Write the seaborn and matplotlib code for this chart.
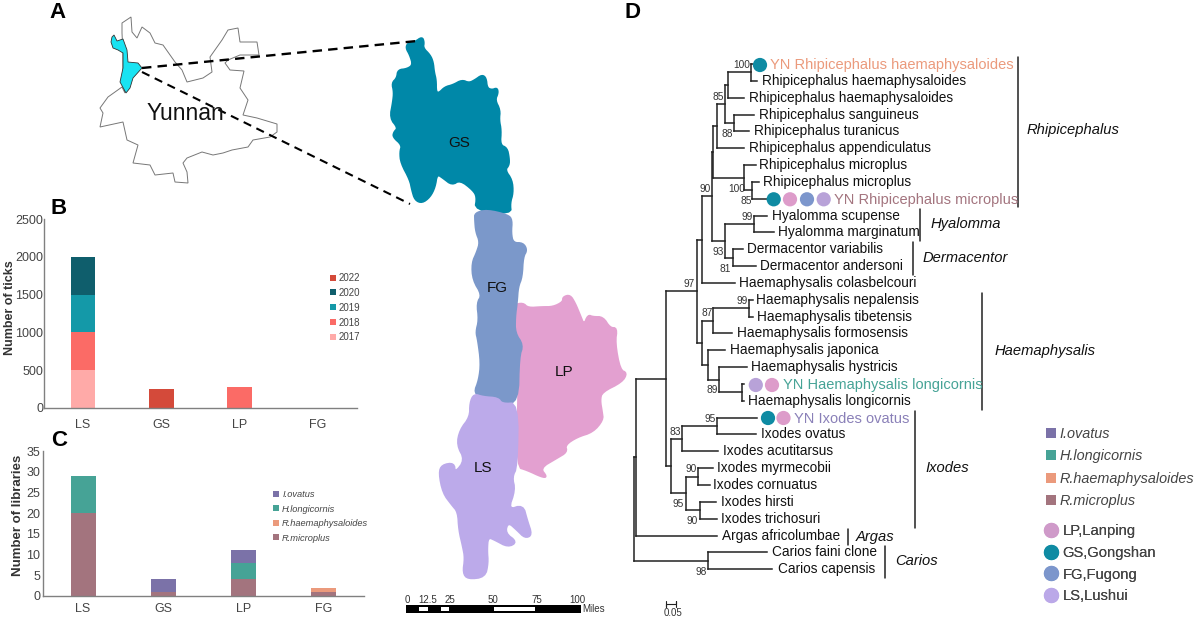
import matplotlib
matplotlib.use('Agg')
import matplotlib.pyplot as plt
import numpy as np
import seaborn as sns
from matplotlib.lines import Line2D
from matplotlib.patches import Polygon, Rectangle

# bar charts
sites = ['LS', 'GS', 'LP', 'FG']
years = ['2017', '2018', '2019', '2020', '2022']
year_colors = ['#ffaaa8', '#fb6b66', '#1499a8', '#0f5e6c', '#d44a3a']
ticks_2017 = [500, 0, 0, 0]
ticks_2018 = [500, 0, 280, 0]
ticks_2019 = [500, 0, 0, 0]
ticks_2020 = [500, 0, 0, 0]
ticks_2022 = [0, 250, 0, 5]

species = ['R.microplus', 'R.haemaphysaloides', 'H.longicornis', 'I.ovatus']
species_colors = ['#a3747e', '#eb9a7c', '#46a396', '#7b72a8']
libs_micro = [20, 1, 4, 1]
libs_haem = [0, 0, 0, 1]
libs_long = [9, 0, 4, 0]
libs_ovatus = [0, 3, 3, 0]

site_names = ['LP,Lanping', 'GS,Gongshan', 'FG,Fugong', 'LS,Lushui']
site_colors = ['#cf9ac9', '#0f8ba3', '#7c96cc', '#bba8e8']

# map outlines
yunnan = [(122, 23), (131, 17), (132, 32), (137, 38), (142, 27), (150, 33), (155, 43), (163, 45), (175, 62),
          (182, 70), (187, 82), (203, 78), (212, 72), (210, 57), (222, 40), (228, 30), (238, 28), (240, 42),
          (257, 42), (259, 55), (240, 55), (228, 60), (225, 63), (230, 70), (244, 71), (240, 88), (248, 100),
          (243, 115), (257, 118), (277, 124), (277, 132), (270, 137), (253, 140), (248, 147), (232, 150),
          (223, 153), (213, 155), (202, 152), (187, 158), (183, 163), (187, 172), (188, 183), (175, 182),
          (173, 173), (155, 175), (150, 165), (133, 163), (138, 145), (127, 140), (123, 122), (100, 127),
          (103, 113), (100, 108), (108, 97), (122, 87), (125, 93), (123, 68), (123, 53), (122, 33)]
county = [(112, 37), (114, 35), (117, 41), (123, 39), (127, 50), (128, 62), (138, 63), (142, 68), (133, 78),
          (130, 88), (126, 93), (120, 82), (123, 68), (123, 53), (118, 50), (113, 48), (111, 42)]
gs_shape = [(422, 37), (424, 42), (423, 48), (430, 55), (433, 62), (434, 72), (436, 80), (436, 92), (439, 93),
            (445, 87), (453, 85), (462, 80), (469, 83), (475, 80), (482, 75), (486, 78), (487, 88), (492, 90),
            (497, 88), (498, 93), (495, 100), (500, 110), (499, 120), (501, 130), (500, 145), (507, 148),
            (509, 158), (509, 165), (505, 170), (512, 180), (513, 193), (510, 203), (511, 214), (475, 210),
            (477, 197), (473, 190), (460, 180), (452, 185), (443, 178), (437, 174), (435, 187), (430, 197),
            (422, 203), (415, 200), (412, 190), (410, 180), (401, 163), (400, 152), (402, 145), (393, 137),
            (394, 132), (398, 128), (390, 118), (393, 102), (394, 92), (392, 83), (397, 78), (398, 70),
            (407, 69), (413, 65), (410, 55), (406, 48), (408, 43), (415, 42)]
fg_shape = [(475, 213), (487, 210), (508, 215), (512, 220), (511, 233), (513, 243), (523, 243), (527, 250),
            (523, 257), (522, 277), (518, 287), (517, 302), (515, 317), (515, 333), (523, 345), (519, 357),
            (518, 402), (502, 404), (498, 398), (483, 397), (474, 393), (479, 380), (481, 363), (478, 340),
            (476, 332), (479, 320), (477, 303), (482, 295), (473, 280), (472, 263), (477, 252), (480, 242),
            (476, 232), (475, 220)]
lp_shape = [(514, 305), (523, 303), (528, 308), (542, 307), (553, 307), (563, 302), (563, 297), (570, 295),
            (575, 303), (580, 315), (584, 325), (588, 315), (593, 317), (603, 317), (610, 328), (617, 328),
            (615, 343), (620, 370), (627, 373), (622, 382), (602, 392), (600, 400), (602, 412), (603, 420),
            (593, 432), (577, 437), (565, 445), (567, 452), (557, 458), (540, 468), (547, 477), (542, 477),
            (527, 470), (517, 467), (518, 403), (519, 357), (523, 345), (515, 333), (515, 317)]
ls_shape = [(474, 394), (483, 397), (498, 398), (502, 404), (518, 403), (517, 467), (512, 477), (515, 490),
            (508, 510), (523, 505), (527, 520), (532, 535), (525, 538), (517, 530), (508, 522), (505, 533),
            (517, 542), (508, 547), (495, 540), (488, 537), (487, 550), (488, 563), (485, 577), (468, 579),
            (463, 573), (465, 558), (463, 547), (459, 530), (458, 512), (452, 505), (443, 493), (439, 473),
            (442, 465), (454, 463), (455, 473), (465, 460), (457, 445), (460, 430), (470, 417), (470, 403)]

# phylogeny: a tip is (x, row), a node is (x, [children])
taxa = ['YN Rhipicephalus haemaphysaloides', 'Rhipicephalus haemaphysaloides', 'Rhipicephalus haemaphysaloides',
        'Rhipicephalus sanguineus', 'Rhipicephalus turanicus', 'Rhipicephalus appendiculatus',
        'Rhipicephalus microplus', 'Rhipicephalus microplus', 'YN Rhipicephalus microplus',
        'Hyalomma scupense', 'Hyalomma marginatum', 'Dermacentor variabilis', 'Dermacentor andersoni',
        'Haemaphysalis colasbelcouri', 'Haemaphysalis nepalensis', 'Haemaphysalis tibetensis',
        'Haemaphysalis formosensis', 'Haemaphysalis japonica', 'Haemaphysalis hystricis',
        'YN Haemaphysalis longicornis', 'Haemaphysalis longicornis', 'YN Ixodes ovatus', 'Ixodes ovatus',
        'Ixodes acutitarsus', 'Ixodes myrmecobii', 'Ixodes cornuatus', 'Ixodes hirsti', 'Ixodes trichosuri',
        'Argas africolumbae', 'Carios faini clone', 'Carios capensis']
taxa_x = [770, 762, 749, 758.7, 754, 749, 759, 763, 834, 771.7, 778, 747, 760, 739, 756.3, 757.3, 737, 730,
          750.6, 782.8, 748.4, 794, 760.6, 723, 717, 713, 720.6, 721, 722, 772, 777.6]
yn_colors = {0: '#eb9a7c', 8: '#a3747e', 19: '#46a396', 21: '#8a80b8'}

rhipi = (712.7, [(716.7, [(725.3, [(728.3, [(750.7, [(753, 0), (757, 1)]), (744, 2)]),
                                   (734, [(754, 3), (749, 4)])]),
                          (744, 5)]),
                 (744.3, [(755.7, 6), (752.3, [(758.7, 7), (767, 8)])])])
hyal_derm = (725, [(754, [(767, 9), (774, 10)]), (733, [(743, 11), (756, 12)])])
haema = (702, [(713, [(748.7, [(752.7, 14), (752.7, 15)]), (732, 16)]),
               (707.7, [(725.4, 17), (718.8, [(746.5, 18), (742, [(744, 19), (744, 20)])])])])
ixodes = (671, [(682, [(717, [(757, 21), (756, 22)]), (718, 23)]),
                (686, [(697.7, [(713, 24), (710, 25)]), (699.5, [(716, 26), (717, 27)])])])
tree = (634, [(636, [(666, [(697, [(702, [(711.7, [rhipi, hyal_derm]), (735, 13)]), haema]), ixodes]),
                     (717, 28)]),
              (708, [(767, 29), (772.4, 30)])])

support = ['100', '85', '88', '90', '100', '85', '99', '93', '81', '97', '99', '87', '89', '95', '83', '90', '95',
           '90', '98']
support_x = [742, 718, 727, 704.7, 736.7, 745.7, 747, 718, 725, 689, 742, 706.7, 712, 710, 675, 691, 678.5,
             692, 701]
support_y = [65, 96.7, 134, 189, 188.7, 201, 216.7, 251.7, 268.7, 284, 300.7, 313, 390, 418.7, 431.7, 469, 504,
             521, 572]

tip_dot_x = [760, 773.7, 790, 807, 823.7, 755.8, 772, 768, 783.5]
tip_dot_y = [65, 199.3, 199.3, 199.3, 199.3, 385, 385, 418, 418]
tip_dot_colors = ['#0f8ba3', '#0f8ba3', '#dd9cca', '#7c96cc', '#b8a2d8', '#b8a2d8', '#dd9cca', '#0f8ba3', '#dd9cca']

genera = ['Rhipicephalus', 'Hyalomma', 'Dermacentor', 'Haemaphysalis', 'Ixodes', 'Argas', 'Carios']
genus_x = [1027, 930.7, 922.7, 995, 925, 855.7, 895.6]
genus_y = [130, 224, 258, 350.7, 468, 536.7, 561]
bar_x = [1017.7, 919.7, 912.7, 982, 914.5, 847.5, 885]
bar_top = [56.7, 209, 242, 293, 410.7, 529, 546]
bar_bottom = [206.7, 241, 275, 410, 528, 545, 578]

scale_labels = ['0', '12.5', '25', '50', '75', '100']
scale_label_x = [407, 428, 450, 493, 536.7, 577]
scale_white = [(419, 427.7), (440.7, 449.3), (494.3, 535.3)]

GREY = '#444444'


def px_axes(fig, x0, y0, x1, y1):
    return fig.add_axes([x0 / 1200, 1 - y1 / 620, (x1 - x0) / 1200, (y1 - y0) / 620])


def stacked(ax, layers, colors, xpad, ypad):
    bottom = np.zeros(len(sites))
    for vals, col in zip(layers, colors):
        sns.barplot(x=sites, y=vals, color=col, saturation=1, width=0.31, bottom=bottom, linewidth=0, ax=ax)
        bottom = bottom + np.array(vals)
    ax.set_xlim(-0.5, 3.5)
    sns.despine(ax=ax)
    for side in ['left', 'bottom']:
        ax.spines[side].set_color('#808080')
        ax.spines[side].set_linewidth(1.0)
    ax.tick_params(axis='both', length=0, labelsize=9, labelcolor=GREY)
    ax.tick_params(axis='x', pad=xpad)
    ax.tick_params(axis='y', pad=ypad)
    ax.patch.set_alpha(0)


def add_legend(ov, labels, colors, x, y, marker, msize, fsize, spacing, textpad, italic=True):
    handles = [Line2D([], [], linestyle='none', marker=marker, markersize=msize, color=c, markeredgewidth=0)
               for c in colors]
    leg = ov.legend(handles, labels, loc='upper left', bbox_to_anchor=(x, y), bbox_transform=ov.transData,
                    frameon=False, borderpad=0, borderaxespad=0, handlelength=1,
                    handletextpad=textpad, labelspacing=spacing, labelcolor=GREY,
                    prop={'size': fsize, 'style': 'italic' if italic else 'normal'})
    ov.add_artist(leg)


def row_y(row):
    return 64 + 16.84 * row


def rounded(points, passes=2):
    # corner cutting so the traced regions get soft edges
    pts = np.array(points, dtype=float)
    for _ in range(passes):
        nxt = np.roll(pts, -1, axis=0)
        pts = np.column_stack([0.75 * pts + 0.25 * nxt, 0.25 * pts + 0.75 * nxt]).reshape(-1, 2)
    return pts


def draw_tree(ov, node, parent_x=None):
    x, rest = node
    if isinstance(rest, int):
        y = row_y(rest)
    else:
        ys = [draw_tree(ov, child, x) for child in rest]
        y = (min(ys) + max(ys)) / 2
        ov.plot([x, x], [min(ys), max(ys)], color='#222222', lw=1.1, solid_capstyle='projecting')
    if parent_x is not None:
        ov.plot([parent_x, x], [y, y], color='#222222', lw=1.1, solid_capstyle='projecting')
    return y


sns.set_theme(style='white')
plt.rcParams['font.family'] = ['Liberation Sans', 'DejaVu Sans']

fig = plt.figure(figsize=(12, 6.2), dpi=100)

ax_b = px_axes(fig, 44, 219, 357, 408)
stacked(ax_b, [ticks_2017, ticks_2018, ticks_2019, ticks_2020, ticks_2022], year_colors, 8, 0.5)
ax_b.set_ylim(0, 2500)
ax_b.set_yticks([0, 500, 1000, 1500, 2000, 2500])
ax_b.set_ylabel('Number of ticks', fontsize=9, fontweight='bold', color='#333333')
ax_b.yaxis.set_label_coords(-0.09, 0.53)

ax_c = px_axes(fig, 43, 451, 364, 596)
stacked(ax_c, [libs_micro, libs_haem, libs_long, libs_ovatus], species_colors, 5, 2)
ax_c.set_ylim(0, 35)
ax_c.set_yticks(range(0, 40, 5))
ax_c.set_ylabel('Number of libraries', fontsize=9.5, fontweight='bold', color='#333333')
ax_c.yaxis.set_label_coords(-0.059, 0.558)

# everything that is not a bar is drawn in picture pixels on a full-size layer
ov = fig.add_axes([0, 0, 1, 1], zorder=5)
ov.set_xlim(0, 1200)
ov.set_ylim(620, 0)
ov.axis('off')

ov.add_patch(Polygon(yunnan, closed=True, facecolor='white', edgecolor='#777777', lw=0.7))
ov.add_patch(Polygon(county, closed=True, facecolor='#19e3f2', edgecolor='#333333', lw=0.6))
for shape, col in [(gs_shape, '#0088a8'), (lp_shape, '#e3a0d0'), (fg_shape, '#7b98ca'), (ls_shape, '#bcaaea')]:
    ov.add_patch(Polygon(rounded(shape), closed=True, facecolor=col, edgecolor=col, lw=1.4, joinstyle='round'))
ov.plot([142, 417], [68, 41], color='black', lw=1.7, dashes=(4, 2.6))
ov.plot([142, 410], [72, 204], color='black', lw=1.5, dashes=(4, 2.8))

ov.text(185.5, 113, 'Yunnan', fontsize=16.5, ha='center', va='center', color='#111111')
for lab, x, y in [('GS', 459, 143), ('FG', 497, 288), ('LP', 564, 372), ('LS', 483.5, 468)]:
    ov.text(x, y, lab, fontsize=11, ha='center', va='center', color='#111111')
for lab, x, y in [('A', 58, 12), ('B', 59, 209), ('C', 59, 441), ('D', 633, 12)]:
    ov.text(x, y, lab, fontsize=16, fontweight='bold', ha='center', va='center', color='black')

# scale bar
ov.add_patch(Rectangle((406, 605), 175, 8, facecolor='black', edgecolor='none'))
for a, b in scale_white:
    ov.add_patch(Rectangle((a, 607.3), b - a, 3.4, facecolor='white', edgecolor='none'))
for lab, x in zip(scale_labels, scale_label_x):
    ov.text(x, 600, lab, fontsize=7, ha='center', va='center', color='#333333')
ov.text(582, 609, 'Miles', fontsize=7, ha='left', va='center', color='#333333')

# tree
draw_tree(ov, tree)
for i, (name, x) in enumerate(zip(taxa, taxa_x)):
    if i in yn_colors:
        ov.text(x, row_y(i) + 1.5, name, fontsize=10.5, ha='left', va='center', color=yn_colors[i])
    else:
        ov.text(x, row_y(i), name, fontsize=9.8, ha='left', va='center', color='#111111')
for lab, x, y in zip(support, support_x, support_y):
    ov.text(x, y, lab, fontsize=7.3, ha='center', va='center', color='#333333')
ov.scatter(tip_dot_x, tip_dot_y, s=105, c=tip_dot_colors, linewidths=0, zorder=4)
for name, x, y in zip(genera, genus_x, genus_y):
    ov.text(x, y, name, fontsize=10.6, style='italic', ha='left', va='center', color='#111111')
for x, y0, y1 in zip(bar_x, bar_top, bar_bottom):
    ov.plot([x, x], [y0, y1], color='#222222', lw=1.1)

# tree scale
ov.plot([666, 666, 666, 675.5, 675.5, 675.5], [600.7, 606.7, 603.7, 603.7, 600.7, 606.7], color='#222222', lw=0.8)
ov.text(673, 612.7, '0.05', fontsize=7, ha='center', va='center', color='#333333')

# legends
add_legend(ov, years[::-1], year_colors[::-1], 328, 273, 's', 5, 7, 0.5, 0.1, italic=False)
add_legend(ov, species[::-1], species_colors[::-1], 271, 490, 's', 5, 6.7, 0.6, 0.2)
add_legend(ov, species[::-1], species_colors[::-1], 1044, 427, 's', 7, 10.4, 0.58, 0.1)
add_legend(ov, site_names, site_colors, 1044, 524, 'o', 11, 10.6, 0.53, 0.25, italic=False)

fig.savefig('out.png', dpi=100)
